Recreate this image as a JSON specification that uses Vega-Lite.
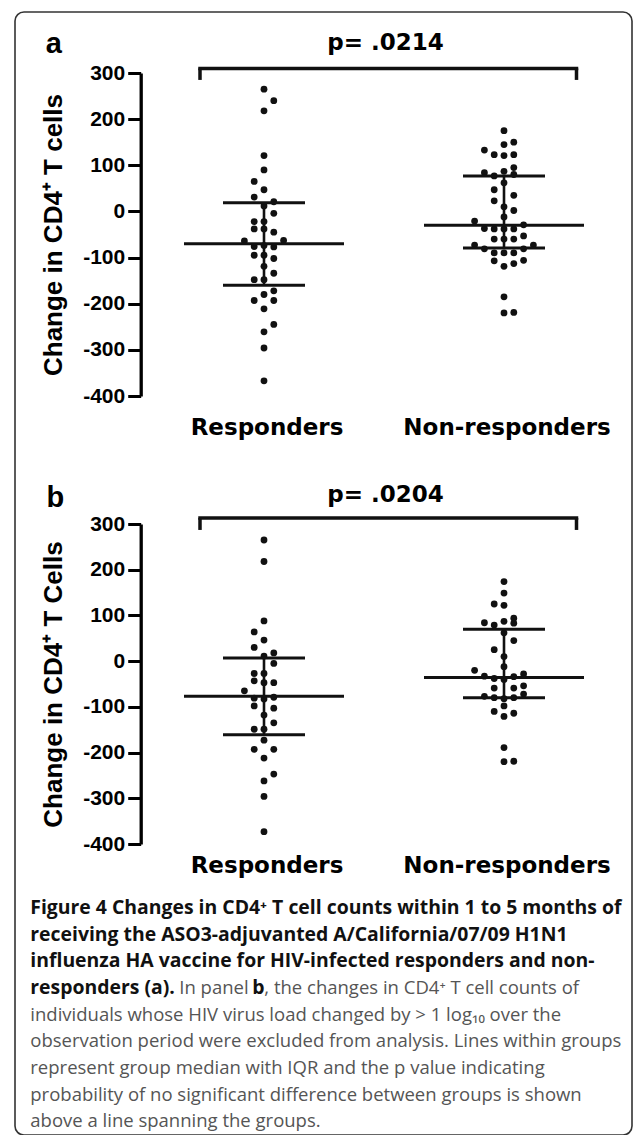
{
  "$schema": "https://vega.github.io/schema/vega-lite/v6.json",
  "width": 617,
  "height": 1123,
  "autosize": {"type": "none"},
  "padding": {"left": 15, "top": 12, "right": 1, "bottom": 0},
  "background": "white",
  "config": {
    "view": {"stroke": "#333", "strokeWidth": 1.6, "cornerRadius": 9},
    "font": "Liberation Sans"
  },
  "datasets": {
    "points": [
      {"panel":"a","group":"Responders","change":265,"slot":0},
      {"panel":"a","group":"Responders","change":240,"slot":1},
      {"panel":"a","group":"Responders","change":218,"slot":0},
      {"panel":"a","group":"Responders","change":121,"slot":0},
      {"panel":"a","group":"Responders","change":90,"slot":0},
      {"panel":"a","group":"Responders","change":65,"slot":-1},
      {"panel":"a","group":"Responders","change":47,"slot":0},
      {"panel":"a","group":"Responders","change":31,"slot":-1},
      {"panel":"a","group":"Responders","change":21,"slot":1},
      {"panel":"a","group":"Responders","change":12,"slot":0},
      {"panel":"a","group":"Responders","change":-4,"slot":1},
      {"panel":"a","group":"Responders","change":-22,"slot":-1},
      {"panel":"a","group":"Responders","change":-22,"slot":0},
      {"panel":"a","group":"Responders","change":-38,"slot":-1},
      {"panel":"a","group":"Responders","change":-38,"slot":0},
      {"panel":"a","group":"Responders","change":-45,"slot":1},
      {"panel":"a","group":"Responders","change":-64,"slot":-2},
      {"panel":"a","group":"Responders","change":-63,"slot":2},
      {"panel":"a","group":"Responders","change":-76,"slot":-1},
      {"panel":"a","group":"Responders","change":-74,"slot":0},
      {"panel":"a","group":"Responders","change":-77,"slot":1},
      {"panel":"a","group":"Responders","change":-95,"slot":-1},
      {"panel":"a","group":"Responders","change":-95,"slot":0},
      {"panel":"a","group":"Responders","change":-102,"slot":1},
      {"panel":"a","group":"Responders","change":-119,"slot":0},
      {"panel":"a","group":"Responders","change":-134,"slot":1},
      {"panel":"a","group":"Responders","change":-148,"slot":-1},
      {"panel":"a","group":"Responders","change":-148,"slot":0},
      {"panel":"a","group":"Responders","change":-172,"slot":1},
      {"panel":"a","group":"Responders","change":-180,"slot":0},
      {"panel":"a","group":"Responders","change":-193,"slot":-1},
      {"panel":"a","group":"Responders","change":-193,"slot":1},
      {"panel":"a","group":"Responders","change":-211,"slot":0},
      {"panel":"a","group":"Responders","change":-245,"slot":1},
      {"panel":"a","group":"Responders","change":-261,"slot":0},
      {"panel":"a","group":"Responders","change":-296,"slot":0},
      {"panel":"a","group":"Responders","change":-367,"slot":0},
      {"panel":"a","group":"Non-responders","change":175,"slot":0},
      {"panel":"a","group":"Non-responders","change":150,"slot":1},
      {"panel":"a","group":"Non-responders","change":145,"slot":0},
      {"panel":"a","group":"Non-responders","change":133,"slot":-2},
      {"panel":"a","group":"Non-responders","change":123,"slot":-1},
      {"panel":"a","group":"Non-responders","change":121,"slot":0},
      {"panel":"a","group":"Non-responders","change":123,"slot":1},
      {"panel":"a","group":"Non-responders","change":95,"slot":1},
      {"panel":"a","group":"Non-responders","change":84,"slot":-2},
      {"panel":"a","group":"Non-responders","change":77,"slot":-1},
      {"panel":"a","group":"Non-responders","change":87,"slot":0},
      {"panel":"a","group":"Non-responders","change":80,"slot":1},
      {"panel":"a","group":"Non-responders","change":62,"slot":0},
      {"panel":"a","group":"Non-responders","change":47,"slot":-1},
      {"panel":"a","group":"Non-responders","change":35,"slot":1},
      {"panel":"a","group":"Non-responders","change":23,"slot":-1},
      {"panel":"a","group":"Non-responders","change":10,"slot":0},
      {"panel":"a","group":"Non-responders","change":2,"slot":1},
      {"panel":"a","group":"Non-responders","change":-12,"slot":0},
      {"panel":"a","group":"Non-responders","change":-21,"slot":-3},
      {"panel":"a","group":"Non-responders","change":-29,"slot":2},
      {"panel":"a","group":"Non-responders","change":-37,"slot":-2},
      {"panel":"a","group":"Non-responders","change":-38,"slot":-1},
      {"panel":"a","group":"Non-responders","change":-38,"slot":0},
      {"panel":"a","group":"Non-responders","change":-38,"slot":1},
      {"panel":"a","group":"Non-responders","change":-53,"slot":2},
      {"panel":"a","group":"Non-responders","change":-60,"slot":-1},
      {"panel":"a","group":"Non-responders","change":-60,"slot":0},
      {"panel":"a","group":"Non-responders","change":-60,"slot":1},
      {"panel":"a","group":"Non-responders","change":-73,"slot":-3},
      {"panel":"a","group":"Non-responders","change":-81,"slot":-2},
      {"panel":"a","group":"Non-responders","change":-81,"slot":2},
      {"panel":"a","group":"Non-responders","change":-73,"slot":3},
      {"panel":"a","group":"Non-responders","change":-90,"slot":-1},
      {"panel":"a","group":"Non-responders","change":-90,"slot":0},
      {"panel":"a","group":"Non-responders","change":-90,"slot":1},
      {"panel":"a","group":"Non-responders","change":-107,"slot":-1},
      {"panel":"a","group":"Non-responders","change":-119,"slot":0},
      {"panel":"a","group":"Non-responders","change":-113,"slot":1},
      {"panel":"a","group":"Non-responders","change":-106,"slot":2},
      {"panel":"a","group":"Non-responders","change":-185,"slot":0},
      {"panel":"a","group":"Non-responders","change":-220,"slot":0},
      {"panel":"a","group":"Non-responders","change":-219,"slot":1},
      {"panel":"b","group":"Responders","change":265,"slot":0},
      {"panel":"b","group":"Responders","change":218,"slot":0},
      {"panel":"b","group":"Responders","change":88,"slot":0},
      {"panel":"b","group":"Responders","change":64,"slot":-1},
      {"panel":"b","group":"Responders","change":46,"slot":0},
      {"panel":"b","group":"Responders","change":30,"slot":-1},
      {"panel":"b","group":"Responders","change":18,"slot":1},
      {"panel":"b","group":"Responders","change":11,"slot":0},
      {"panel":"b","group":"Responders","change":-5,"slot":1},
      {"panel":"b","group":"Responders","change":-27,"slot":-1},
      {"panel":"b","group":"Responders","change":-27,"slot":0},
      {"panel":"b","group":"Responders","change":-43,"slot":-1},
      {"panel":"b","group":"Responders","change":-47,"slot":0},
      {"panel":"b","group":"Responders","change":-47,"slot":1},
      {"panel":"b","group":"Responders","change":-65,"slot":-2},
      {"panel":"b","group":"Responders","change":-81,"slot":-1},
      {"panel":"b","group":"Responders","change":-83,"slot":0},
      {"panel":"b","group":"Responders","change":-79,"slot":1},
      {"panel":"b","group":"Responders","change":-98,"slot":-1},
      {"panel":"b","group":"Responders","change":-103,"slot":1},
      {"panel":"b","group":"Responders","change":-118,"slot":0},
      {"panel":"b","group":"Responders","change":-135,"slot":1},
      {"panel":"b","group":"Responders","change":-149,"slot":-1},
      {"panel":"b","group":"Responders","change":-149,"slot":0},
      {"panel":"b","group":"Responders","change":-173,"slot":0},
      {"panel":"b","group":"Responders","change":-193,"slot":-1},
      {"panel":"b","group":"Responders","change":-193,"slot":1},
      {"panel":"b","group":"Responders","change":-212,"slot":0},
      {"panel":"b","group":"Responders","change":-247,"slot":1},
      {"panel":"b","group":"Responders","change":-262,"slot":0},
      {"panel":"b","group":"Responders","change":-296,"slot":0},
      {"panel":"b","group":"Responders","change":-373,"slot":0},
      {"panel":"b","group":"Non-responders","change":174,"slot":0},
      {"panel":"b","group":"Non-responders","change":149,"slot":0},
      {"panel":"b","group":"Non-responders","change":125,"slot":-1},
      {"panel":"b","group":"Non-responders","change":122,"slot":0},
      {"panel":"b","group":"Non-responders","change":94,"slot":1},
      {"panel":"b","group":"Non-responders","change":84,"slot":-2},
      {"panel":"b","group":"Non-responders","change":79,"slot":-1},
      {"panel":"b","group":"Non-responders","change":87,"slot":0},
      {"panel":"b","group":"Non-responders","change":83,"slot":1},
      {"panel":"b","group":"Non-responders","change":62,"slot":0},
      {"panel":"b","group":"Non-responders","change":45,"slot":1},
      {"panel":"b","group":"Non-responders","change":25,"slot":-1},
      {"panel":"b","group":"Non-responders","change":10,"slot":0},
      {"panel":"b","group":"Non-responders","change":-12,"slot":0},
      {"panel":"b","group":"Non-responders","change":-20,"slot":-3},
      {"panel":"b","group":"Non-responders","change":-33,"slot":-2},
      {"panel":"b","group":"Non-responders","change":-38,"slot":-1},
      {"panel":"b","group":"Non-responders","change":-40,"slot":0},
      {"panel":"b","group":"Non-responders","change":-34,"slot":1},
      {"panel":"b","group":"Non-responders","change":-28,"slot":2},
      {"panel":"b","group":"Non-responders","change":-59,"slot":-1},
      {"panel":"b","group":"Non-responders","change":-59,"slot":1},
      {"panel":"b","group":"Non-responders","change":-54,"slot":2},
      {"panel":"b","group":"Non-responders","change":-72,"slot":2},
      {"panel":"b","group":"Non-responders","change":-77,"slot":-2},
      {"panel":"b","group":"Non-responders","change":-80,"slot":-1},
      {"panel":"b","group":"Non-responders","change":-82,"slot":0},
      {"panel":"b","group":"Non-responders","change":-80,"slot":1},
      {"panel":"b","group":"Non-responders","change":-98,"slot":0},
      {"panel":"b","group":"Non-responders","change":-110,"slot":-1},
      {"panel":"b","group":"Non-responders","change":-114,"slot":1},
      {"panel":"b","group":"Non-responders","change":-121,"slot":0},
      {"panel":"b","group":"Non-responders","change":-189,"slot":0},
      {"panel":"b","group":"Non-responders","change":-220,"slot":0},
      {"panel":"b","group":"Non-responders","change":-219,"slot":1}
    ],
    "summary": [
      {"panel":"a","group":"Responders","q1":-160,"median":-70,"q3":19},
      {"panel":"a","group":"Non-responders","q1":-79,"median":-30,"q3":77},
      {"panel":"b","group":"Responders","q1":-161,"median":-77,"q3":7},
      {"panel":"b","group":"Non-responders","q1":-80,"median":-36,"q3":70}
    ],
    "tests": [
      {"panel":"a","p":"p= .0214"},
      {"panel":"b","p":"p= .0204"}
    ],
    "caption": [
      {"line":1,"part":"head","text":"Figure 4 Changes in CD4⁺ T cell counts within 1 to 5 months of"},
      {"line":2,"part":"head","text":"receiving the ASO3-adjuvanted A/California/07/09 H1N1"},
      {"line":3,"part":"head","text":"influenza HA vaccine for HIV-infected responders and non-"},
      {"line":4,"part":"head","text":"responders (a)."},
      {"line":4,"part":"body1","text":"In panel"},
      {"line":4,"part":"ref","text":"b"},
      {"line":4,"part":"body2","text":", the changes in CD4⁺ T cell counts of"},
      {"line":5,"part":"body","text":"individuals whose HIV virus load changed by > 1 log₁₀ over the"},
      {"line":6,"part":"body","text":"observation period were excluded from analysis. Lines within groups"},
      {"line":7,"part":"body","text":"represent group median with IQR and the p value indicating"},
      {"line":8,"part":"body","text":"probability of no significant difference between groups is shown"},
      {"line":9,"part":"body","text":"above a line spanning the groups."}
    ]
  },
  "resolve": {"scale": {"x": "independent", "y": "independent"}},
  "layer": [
    {
      "layer": [
        {
          "data": {"name": "summary"},
          "transform": [{"filter": "datum.panel === 'a'"}],
          "mark": {"type": "rule", "strokeWidth": 2.6, "color": "#111"},
          "encoding": {
            "x": {"field": "group", "type": "nominal", "axis": null, "scale": {"type": "point", "domain": ["Responders", "Non-responders"], "range": [249, 489], "padding": 0}},
            "y": {"field": "q1", "type": "quantitative", "scale": {"domain": [-400, 300], "range": [384, 61], "nice": false, "zero": false},
              "axis": {"orient": "left", "offset": -125.7, "values": [-400, -300, -200, -100, 0, 100, 200, 300], "labelExpr": "'' + datum.value", "title": "Change in CD4⁺ T cells", "grid": false, "domainColor": "#000", "domainWidth": 3.3, "tickColor": "#000", "tickWidth": 3, "tickSize": 13, "labelPadding": 3, "labelFont": "Liberation Sans", "labelFontSize": 21, "labelFontWeight": "bold", "labelColor": "#000", "labelFlush": false, "labelOverlap": false, "titleFont": "Liberation Sans", "titleFontSize": 26, "titleFontWeight": "bold", "titleColor": "#000", "titlePadding": 16}},
            "y2": {"field": "q3"}
          }
        },
        {
          "data": {"name": "points"},
          "transform": [{"filter": "datum.panel === 'a'"}],
          "mark": {"type": "circle", "size": 46, "color": "#111", "opacity": 1},
          "encoding": {
            "x": {"field": "group", "type": "nominal"},
            "xOffset": {"field": "slot", "type": "quantitative", "scale": {"type": "linear", "domain": [-3, 3], "range": [-29.4, 29.4]}},
            "y": {"field": "change", "type": "quantitative"}
          }
        },
        {
          "data": {"name": "summary"},
          "transform": [{"filter": "datum.panel === 'a'"}],
          "mark": {"type": "tick", "orient": "horizontal", "size": 160, "thickness": 3, "color": "#111", "opacity": 1},
          "encoding": {"x": {"field": "group", "type": "nominal"}, "y": {"field": "median", "type": "quantitative"}}
        },
        {
          "data": {"name": "summary"},
          "transform": [{"filter": "datum.panel === 'a'"}],
          "mark": {"type": "tick", "orient": "horizontal", "size": 82, "thickness": 3, "color": "#111", "opacity": 1},
          "encoding": {"x": {"field": "group", "type": "nominal"}, "y": {"field": "q1", "type": "quantitative"}}
        },
        {
          "data": {"name": "summary"},
          "transform": [{"filter": "datum.panel === 'a'"}],
          "mark": {"type": "tick", "orient": "horizontal", "size": 82, "thickness": 3, "color": "#111", "opacity": 1},
          "encoding": {"x": {"field": "group", "type": "nominal"}, "y": {"field": "q3", "type": "quantitative"}}
        },
        {
          "data": {"name": "tests"},
          "transform": [{"filter": "datum.panel === 'a'"}],
          "mark": {"type": "rule", "strokeWidth": 3.5, "color": "#111", "xOffset": -64, "x2Offset": 72.5, "strokeCap": "square"},
          "encoding": {"x": {"datum": "Responders", "type": "nominal"}, "x2": {"datum": "Non-responders"}, "y": {"datum": 310, "type": "quantitative"}}
        },
        {
          "data": {"name": "tests"},
          "transform": [{"filter": "datum.panel === 'a'"}],
          "mark": {"type": "rule", "strokeWidth": 3.5, "color": "#111", "xOffset": -64},
          "encoding": {"x": {"datum": "Responders", "type": "nominal"}, "y": {"datum": 310, "type": "quantitative"}, "y2": {"datum": 285}}
        },
        {
          "data": {"name": "tests"},
          "transform": [{"filter": "datum.panel === 'a'"}],
          "mark": {"type": "rule", "strokeWidth": 3.5, "color": "#111", "xOffset": 72.5},
          "encoding": {"x": {"datum": "Non-responders", "type": "nominal"}, "y": {"datum": 310, "type": "quantitative"}, "y2": {"datum": 285}}
        },
        {
          "data": {"name": "tests"},
          "transform": [{"filter": "datum.panel === 'a'"}],
          "mark": {"type": "text", "font": "DejaVu Sans", "fontWeight": "bold", "fontSize": 23, "align": "center", "baseline": "alphabetic", "dx": 121.5, "color": "#000"},
          "encoding": {"x": {"datum": "Responders", "type": "nominal"}, "y": {"datum": 349.8, "type": "quantitative"}, "text": {"field": "p"}}
        },
        {
          "data": {"name": "tests"},
          "transform": [{"filter": "datum.panel === 'a'"}],
          "mark": {"type": "text", "font": "Liberation Sans", "fontWeight": "bold", "fontSize": 29, "align": "left", "baseline": "alphabetic", "dx": -218.3, "color": "#000"},
          "encoding": {"x": {"datum": "Responders", "type": "nominal"}, "y": {"datum": 342.7, "type": "quantitative"}, "text": {"field": "panel"}}
        },
        {
          "data": {"name": "summary"},
          "transform": [{"filter": "datum.panel === 'a'"}],
          "mark": {"type": "text", "font": "DejaVu Sans", "fontWeight": "bold", "fontSize": 23, "align": "center", "baseline": "alphabetic", "dx": 3, "color": "#000"},
          "encoding": {"x": {"field": "group", "type": "nominal"}, "y": {"datum": -484.5, "type": "quantitative"}, "text": {"field": "group"}}
        }
      ]
    },
    {
      "layer": [
        {
          "data": {"name": "summary"},
          "transform": [{"filter": "datum.panel === 'b'"}],
          "mark": {"type": "rule", "strokeWidth": 2.6, "color": "#111"},
          "encoding": {
            "x": {"field": "group", "type": "nominal", "axis": null, "scale": {"type": "point", "domain": ["Responders", "Non-responders"], "range": [249, 489], "padding": 0}},
            "y": {"field": "q1", "type": "quantitative", "scale": {"domain": [-400, 300], "range": [832, 512], "nice": false, "zero": false},
              "axis": {"orient": "left", "offset": -125.7, "values": [-400, -300, -200, -100, 0, 100, 200, 300], "labelExpr": "'' + datum.value", "title": "Change in CD4⁺ T Cells", "grid": false, "domainColor": "#000", "domainWidth": 3.3, "tickColor": "#000", "tickWidth": 3, "tickSize": 13, "labelPadding": 3, "labelFont": "Liberation Sans", "labelFontSize": 21, "labelFontWeight": "bold", "labelColor": "#000", "labelFlush": false, "labelOverlap": false, "titleFont": "Liberation Sans", "titleFontSize": 26, "titleFontWeight": "bold", "titleColor": "#000", "titlePadding": 16}},
            "y2": {"field": "q3"}
          }
        },
        {
          "data": {"name": "points"},
          "transform": [{"filter": "datum.panel === 'b'"}],
          "mark": {"type": "circle", "size": 46, "color": "#111", "opacity": 1},
          "encoding": {
            "x": {"field": "group", "type": "nominal"},
            "xOffset": {"field": "slot", "type": "quantitative", "scale": {"type": "linear", "domain": [-3, 3], "range": [-29.4, 29.4]}},
            "y": {"field": "change", "type": "quantitative"}
          }
        },
        {
          "data": {"name": "summary"},
          "transform": [{"filter": "datum.panel === 'b'"}],
          "mark": {"type": "tick", "orient": "horizontal", "size": 160, "thickness": 3, "color": "#111", "opacity": 1},
          "encoding": {"x": {"field": "group", "type": "nominal"}, "y": {"field": "median", "type": "quantitative"}}
        },
        {
          "data": {"name": "summary"},
          "transform": [{"filter": "datum.panel === 'b'"}],
          "mark": {"type": "tick", "orient": "horizontal", "size": 82, "thickness": 3, "color": "#111", "opacity": 1},
          "encoding": {"x": {"field": "group", "type": "nominal"}, "y": {"field": "q1", "type": "quantitative"}}
        },
        {
          "data": {"name": "summary"},
          "transform": [{"filter": "datum.panel === 'b'"}],
          "mark": {"type": "tick", "orient": "horizontal", "size": 82, "thickness": 3, "color": "#111", "opacity": 1},
          "encoding": {"x": {"field": "group", "type": "nominal"}, "y": {"field": "q3", "type": "quantitative"}}
        },
        {
          "data": {"name": "tests"},
          "transform": [{"filter": "datum.panel === 'b'"}],
          "mark": {"type": "rule", "strokeWidth": 3.5, "color": "#111", "xOffset": -64, "x2Offset": 72.5, "strokeCap": "square"},
          "encoding": {"x": {"datum": "Responders", "type": "nominal"}, "x2": {"datum": "Non-responders"}, "y": {"datum": 313, "type": "quantitative"}}
        },
        {
          "data": {"name": "tests"},
          "transform": [{"filter": "datum.panel === 'b'"}],
          "mark": {"type": "rule", "strokeWidth": 3.5, "color": "#111", "xOffset": -64},
          "encoding": {"x": {"datum": "Responders", "type": "nominal"}, "y": {"datum": 313, "type": "quantitative"}, "y2": {"datum": 287}}
        },
        {
          "data": {"name": "tests"},
          "transform": [{"filter": "datum.panel === 'b'"}],
          "mark": {"type": "rule", "strokeWidth": 3.5, "color": "#111", "xOffset": 72.5},
          "encoding": {"x": {"datum": "Non-responders", "type": "nominal"}, "y": {"datum": 313, "type": "quantitative"}, "y2": {"datum": 287}}
        },
        {
          "data": {"name": "tests"},
          "transform": [{"filter": "datum.panel === 'b'"}],
          "mark": {"type": "text", "font": "DejaVu Sans", "fontWeight": "bold", "fontSize": 23, "align": "center", "baseline": "alphabetic", "dx": 121.5, "color": "#000"},
          "encoding": {"x": {"datum": "Responders", "type": "nominal"}, "y": {"datum": 348, "type": "quantitative"}, "text": {"field": "p"}}
        },
        {
          "data": {"name": "tests"},
          "transform": [{"filter": "datum.panel === 'b'"}],
          "mark": {"type": "text", "font": "Liberation Sans", "fontWeight": "bold", "fontSize": 29, "align": "left", "baseline": "alphabetic", "dx": -217.6, "color": "#000"},
          "encoding": {"x": {"datum": "Responders", "type": "nominal"}, "y": {"datum": 337, "type": "quantitative"}, "text": {"field": "panel"}}
        },
        {
          "data": {"name": "summary"},
          "transform": [{"filter": "datum.panel === 'b'"}],
          "mark": {"type": "text", "font": "DejaVu Sans", "fontWeight": "bold", "fontSize": 23, "align": "center", "baseline": "alphabetic", "dx": 3, "color": "#000"},
          "encoding": {"x": {"field": "group", "type": "nominal"}, "y": {"datum": -464, "type": "quantitative"}, "text": {"field": "group"}}
        }
      ]
    },
    {
      "data": {"name": "caption"},
      "encoding": {
        "x": {"datum": 0, "type": "quantitative", "axis": null, "scale": {"domain": [0, 1], "range": [15.3, 600]}},
        "y": {"field": "line", "type": "quantitative", "axis": null, "scale": {"domain": [1, 9], "range": [902, 1115.3], "nice": false, "zero": false}},
        "text": {"field": "text"}
      },
      "layer": [
        {"transform": [{"filter": "datum.part === 'head'"}], "mark": {"type": "text", "font": "Open Sans", "fontWeight": "bold", "fontSize": 19.4, "align": "left", "baseline": "alphabetic", "color": "#111"}},
        {"transform": [{"filter": "datum.part === 'body1'"}], "mark": {"type": "text", "font": "Open Sans", "fontSize": 18.5, "align": "left", "baseline": "alphabetic", "color": "#555", "dx": 149}},
        {"transform": [{"filter": "datum.part === 'ref'"}], "mark": {"type": "text", "font": "Open Sans", "fontWeight": "bold", "fontSize": 19.4, "align": "left", "baseline": "alphabetic", "color": "#111", "dx": 222}},
        {"transform": [{"filter": "datum.part === 'body2'"}], "mark": {"type": "text", "font": "Open Sans", "fontSize": 18.5, "align": "left", "baseline": "alphabetic", "color": "#555", "dx": 234}},
        {"transform": [{"filter": "datum.part === 'body'"}], "mark": {"type": "text", "font": "Open Sans", "fontSize": 18.5, "align": "left", "baseline": "alphabetic", "color": "#555"}}
      ]
    }
  ]
}
